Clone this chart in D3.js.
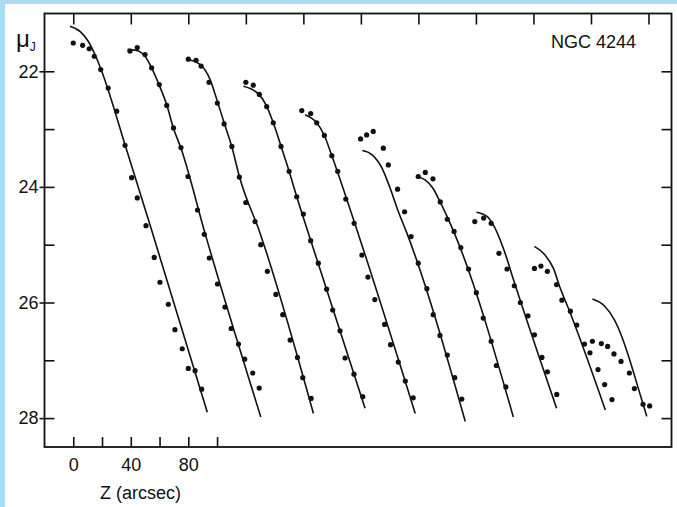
<!DOCTYPE html>
<html>
<head>
<meta charset="utf-8">
<script src="https://cdn.jsdelivr.net/npm/d3@7"></script>
<style>
  html, body { margin: 0; padding: 0; background: #ffffff; }
  svg { display: block; }
  text { font-family: "Liberation Sans", Arial, sans-serif; fill: #111; }
</style>
</head>
<body>
<svg id="chart" width="677" height="507"></svg>
<script>
// NGC 4244: vertical surface-brightness profiles, each shifted by 40 arcsec in z
const profileOffsets = [0, 40, 80, 120, 160, 200, 240, 280, 320, 360];

// Observed points (z in arcsec from the plane, mu_J in mag/arcsec^2)
const obsZ = [
  [0, 6.5, 11.1, 14.6, 19.1, 24.3, 30.2, 36.0, 40.6, 44.5, 50.6, 56.3, 60.3, 66.1, 70.7, 75.8, 80.0, 84.7, 89.3],
  [-0.6, 4.5, 9.9, 14.5, 19.8, 25.0, 29.7, 34.9, 39.8, 46.4, 51.1, 54.6, 60.3, 65.5, 69.8, 74.9, 79.2, 84.8, 89.3],
  [0, 5.4, 8.9, 14.4, 20.2, 24.9, 30.3, 35.5, 40.0, 46.4, 50.4, 55.0, 60.9, 65.7, 70.8, 75.9, 79.6, 85.4],
  [0, 5.2, 9.4, 14.5, 19.1, 24.5, 30.1, 35.4, 40.0, 45.1, 50.4, 56.2, 60.4, 65.5, 69.0, 75.2, 81.3],
  [-1.1, 5.1, 9.3, 14.6, 19.8, 23.9, 29.5, 35.3, 40.7, 44.9, 49.7, 56.5, 60.6, 66.0, 70.9, 76.4],
  [-0.2, 4.0, 8.6, 15.6, 19.1, 25.5, 30.4, 34.9, 39.9, 45.9, 50.3, 55.0, 60.1, 65.3, 70.2],
  [-0.1, 4.8, 10.1, 15.2, 20.1, 24.8, 29.5, 34.9, 40.3, 45.1, 50.6, 54.2, 60.8],
  [-0.8, 5.4, 10.6, 16.0, 21.6, 26.7, 30.9, 36.2, 40.7, 45.9, 49.7, 56.2],
  [0.7, 5.2, 9.7, 16.1, 19.8, 25.7, 30.1, 35.5, 39.3, 44.9, 49.5, 54.6],
  [1.0, 7.2, 11.6, 16.0, 20.9, 26.7, 30.2, 36.2, 40.8]
];
const obsMu = [
  [21.51, 21.55, 21.61, 21.74, 21.97, 22.29, 22.69, 23.28, 23.84, 24.19, 24.67, 25.22, 25.65, 26.03, 26.47, 26.80, 27.14, 27.18, 27.50],
  [21.65, 21.59, 21.71, 21.94, 22.23, 22.59, 22.98, 23.32, 23.82, 24.40, 24.82, 25.23, 25.68, 26.08, 26.45, 26.72, 26.98, 27.22, 27.48],
  [21.79, 21.81, 21.91, 22.19, 22.55, 22.91, 23.30, 23.83, 24.27, 24.60, 25.00, 25.46, 25.86, 26.21, 26.65, 26.95, 27.30, 27.66],
  [22.19, 22.24, 22.40, 22.61, 22.89, 23.30, 23.73, 24.17, 24.47, 24.93, 25.32, 25.77, 26.13, 26.49, 26.96, 27.24, 27.63],
  [22.68, 22.73, 22.89, 23.11, 23.46, 23.73, 24.21, 24.63, 25.18, 25.56, 25.95, 26.38, 26.73, 27.03, 27.36, 27.65],
  [23.17, 23.10, 23.04, 23.33, 23.62, 24.04, 24.43, 24.86, 25.32, 25.76, 26.21, 26.57, 26.91, 27.30, 27.67],
  [23.82, 23.75, 23.86, 24.26, 24.56, 24.77, 25.05, 25.42, 25.83, 26.27, 26.67, 27.09, 27.46],
  [24.60, 24.54, 24.63, 25.15, 25.42, 25.71, 26.00, 26.23, 26.56, 26.95, 27.20, 27.59],
  [25.41, 25.37, 25.46, 25.69, 25.96, 26.15, 26.39, 26.72, 26.87, 27.16, 27.42, 27.68],
  [26.67, 26.71, 26.76, 26.89, 27.02, 27.22, 27.49, 27.76, 27.79]
];

// Model curves
const modelZ = [
  [-2.3, 4.7, 10.4, 15.1, 19.8, 36.0, 53.4, 93.2],
  [-2.2, 4.1, 9.9, 14.5, 19.6, 25.0, 29.6, 34.9, 51.6, 90.4],
  [-1.1, 8.1, 15.1, 20.2, 24.9, 30.2, 35.5, 49.9, 87.0],
  [-1.7, 8.7, 14.6, 19.1, 24.5, 30.1, 35.4, 43.5, 82.9],
  [1.2, 9.3, 14.6, 19.8, 38.0, 77.8],
  [1.0, 7.6, 14.6, 20.3, 26.1, 32.0, 72.6],
  [-1.0, 4.7, 10.0, 15.1, 25.5, 66.0],
  [0.3, 7.7, 11.5, 19.5, 25.8, 56.1],
  [0.7, 8.1, 13.9, 18.6, 24.3, 50.0],
  [1.0, 9.4, 16.3, 21.6, 26.8, 32.6, 38.8]
];
const modelMu = [
  [21.22, 21.31, 21.48, 21.71, 22.00, 23.27, 24.66, 27.90],
  [21.62, 21.64, 21.74, 21.94, 22.23, 22.58, 22.98, 23.33, 24.80, 27.98],
  [21.79, 21.88, 22.14, 22.52, 22.89, 23.30, 23.82, 24.80, 27.92],
  [22.26, 22.39, 22.61, 22.89, 23.30, 23.73, 24.17, 24.80, 27.83],
  [22.75, 22.89, 23.11, 23.46, 24.80, 27.92],
  [23.37, 23.44, 23.67, 24.02, 24.43, 24.80, 28.06],
  [23.82, 23.88, 24.02, 24.26, 24.83, 27.98],
  [24.44, 24.51, 24.63, 25.09, 25.58, 27.83],
  [25.03, 25.18, 25.41, 25.75, 26.10, 27.86],
  [25.94, 26.06, 26.30, 26.60, 26.98, 27.46, 27.97]
];

// Axis ticks
const muTicks = [22, 23, 24, 25, 26, 27, 28];
const muLabels = [22, 24, 26, 28];
const zTicksBottom = [0, 20, 40, 60, 80, 100];
const zLabels = [0, 40, 80];
const zTicksTop = [0, 40, 80, 120, 160, 200, 240, 280, 320, 360, 400];

const svg = d3.select("#chart");
const W = 677, H = 507;

// page border
svg.append("rect").attr("width", W).attr("height", H).attr("fill", "#aadcf6");
svg.append("rect").attr("x", 5).attr("y", 4).attr("width", W - 5).attr("height", H - 4).attr("fill", "#ffffff");

const x = d3.scaleLinear().domain([-20, 416]).range([44.5, 671.5]);
const y = d3.scaleLinear().domain([21, 28.5]).range([13.5, 447]);

// Axes with inward ticks
const axisStyle = g => {
  g.select(".domain").remove();
  g.selectAll(".tick line").attr("stroke", "#111").attr("stroke-width", 1.6);
  g.selectAll("text").style("font-size", "18px").attr("fill", "#111")
    .style("font-family", "'Liberation Sans', Arial, sans-serif");
};

const left = svg.append("g").attr("transform", `translate(${x.range()[0]},0)`)
  .call(d3.axisLeft(y).tickValues(muTicks).tickSize(-10).tickPadding(6)
    .tickFormat(d => muLabels.includes(d) ? d : ""))
  .call(axisStyle);
// labelled ticks cross the frame
left.selectAll(".tick").filter(d => muLabels.includes(d))
  .append("line").attr("x1", 0).attr("x2", -5).attr("stroke", "#111").attr("stroke-width", 1.6);

svg.append("g").attr("transform", `translate(${x.range()[1]},0)`)
  .call(d3.axisRight(y).tickValues(muTicks).tickSize(-10).tickFormat(""))
  .call(axisStyle);

svg.append("g").attr("transform", `translate(0,${y.range()[1]})`)
  .call(d3.axisBottom(x).tickValues(zTicksBottom).tickSize(-10).tickPadding(11)
    .tickFormat(d => zLabels.includes(d) ? d : ""))
  .call(axisStyle);

svg.append("g").attr("transform", `translate(0,${y.range()[0]})`)
  .call(d3.axisTop(x).tickValues(zTicksTop).tickSize(-11).tickFormat(""))
  .call(axisStyle);

// frame
svg.append("rect")
  .attr("x", x.range()[0]).attr("y", y.range()[0])
  .attr("width", x.range()[1] - x.range()[0])
  .attr("height", y.range()[1] - y.range()[0])
  .attr("fill", "none").attr("stroke", "#111").attr("stroke-width", 1.8);

// model curves
const line = d3.line()
  .x(d => x(d[0]))
  .y(d => y(d[1]))
  .curve(d3.curveMonotoneX);

profileOffsets.forEach((off, i) => {
  const pts = modelZ[i].map((z, j) => [z + off, modelMu[i][j]]);
  svg.append("path").datum(pts)
    .attr("d", line)
    .attr("fill", "none")
    .attr("stroke", "#111")
    .attr("stroke-width", 1.6);
});

// observed points
profileOffsets.forEach((off, i) => {
  const pts = obsZ[i].map((z, j) => [z + off, obsMu[i][j]]);
  svg.append("g").selectAll("circle").data(pts).join("circle")
    .attr("cx", d => x(d[0]))
    .attr("cy", d => y(d[1]))
    .attr("r", 2.6)
    .attr("fill", "#111");
});

// labels
const muLab = svg.append("text").attr("x", 16).attr("y", 47).style("font-size", "24px");
muLab.append("tspan").text("μ");
muLab.append("tspan").attr("dx", 0).attr("dy", 4).style("font-size", "12px").text("J");

svg.append("text").attr("x", 100).attr("y", 499).style("font-size", "18px").text("Z (arcsec)");
svg.append("text").attr("x", 551).attr("y", 48).style("font-size", "18px").text("NGC 4244");
</script>
</body>
</html>
